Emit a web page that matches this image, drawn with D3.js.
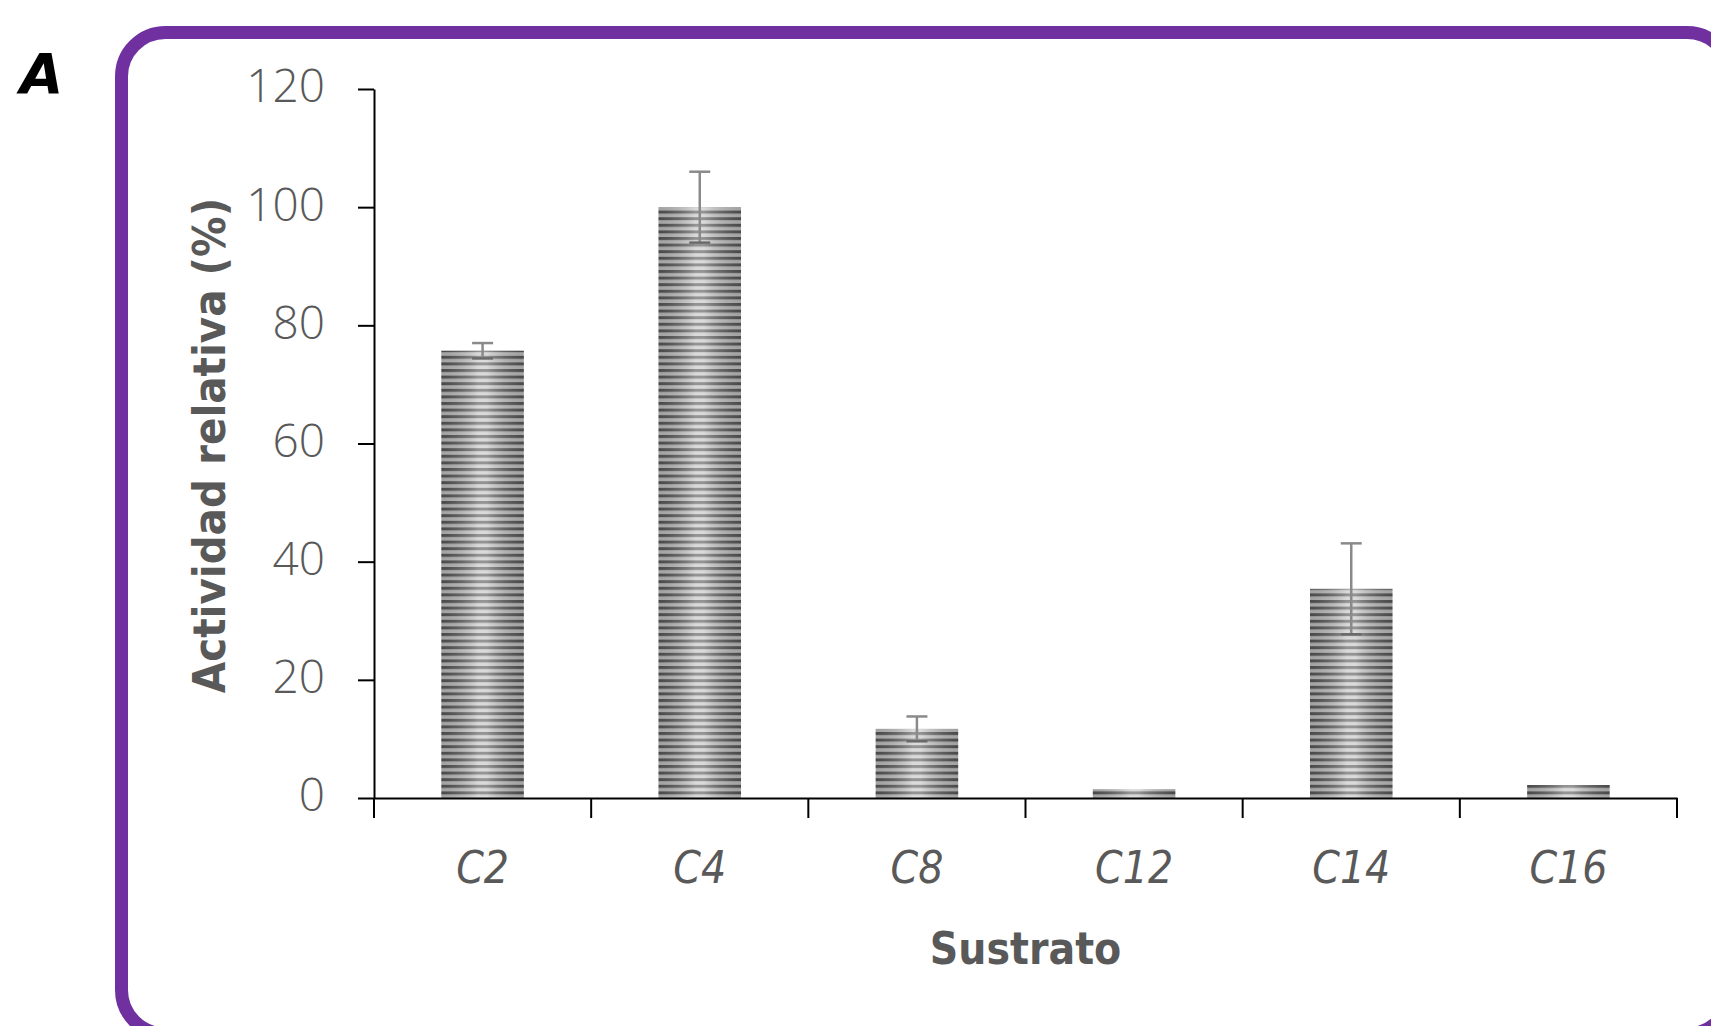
<!DOCTYPE html>
<html>
<head>
<meta charset="utf-8">
<script src="https://cdn.jsdelivr.net/npm/d3@7"></script>
<style>
  html, body { margin: 0; padding: 0; background: #fff; }
  svg { display: block; }
</style>
</head>
<body>
<svg id="chart" width="1711" height="1026"></svg>
<script>
// Relative activity of the enzyme on acyl substrates of different chain length
const categories = ["C2", "C4", "C8", "C12", "C14", "C16"];
const values = [75.7, 100, 11.7, 1.5, 35.4, 2.2];
const errors = [1.3, 6, 2.1, 0, 7.7, 0];
const yTicks = [0, 20, 40, 60, 80, 100, 120];

const svg = d3.select("#chart");
const plot = { left: 374, right: 1677, top: 89, bottom: 798 };

const x = d3.scaleBand().domain(categories).range([plot.left, plot.right]).padding(0);
const y = d3.scaleLinear().domain([0, 120]).range([plot.bottom, plot.top]);
const barW = x.bandwidth() * 0.38;

const defs = svg.append("defs");
// horizontal stripe fill for the bars
const pat = defs.append("pattern")
  .attr("id", "stripes")
  .attr("patternUnits", "userSpaceOnUse")
  .attr("width", 10).attr("height", 6.6)
  .attr("y", plot.bottom);
pat.append("rect").attr("width", 10).attr("height", 6.6).attr("fill", "#c6c6c6");
pat.append("rect").attr("width", 10).attr("height", 3).attr("fill", "#5a5a5a");

// soft cylindrical shading across each bar
const shade = defs.append("linearGradient").attr("id", "shade")
  .attr("x1", "0%").attr("x2", "100%").attr("y1", "0%").attr("y2", "0%");
shade.append("stop").attr("offset", "0%").attr("stop-color", "#000").attr("stop-opacity", 0.18);
shade.append("stop").attr("offset", "45%").attr("stop-color", "#fff").attr("stop-opacity", 0.35);
shade.append("stop").attr("offset", "55%").attr("stop-color", "#fff").attr("stop-opacity", 0.35);
shade.append("stop").attr("offset", "100%").attr("stop-color", "#000").attr("stop-opacity", 0.18);

// rounded purple frame
svg.append("rect")
  .attr("x", 121.5).attr("y", 32.5)
  .attr("width", 1609.5).attr("height", 1001.5)
  .attr("rx", 44).attr("ry", 44)
  .attr("fill", "none")
  .attr("stroke", "#7030a0")
  .attr("stroke-width", 13);

// panel letter
svg.append("text")
  .attr("x", 20).attr("y", 93)
  .attr("font-family", "DejaVu Sans")
  .attr("font-weight", "bold")
  .attr("font-style", "oblique")
  .attr("font-size", 56)
  .attr("fill", "#000")
  .text("A");

const data = categories.map((c, i) => ({ c, v: values[i], e: errors[i] }));

// bars
const bars = svg.append("g");
bars.selectAll("rect.bar").data(data).join("rect")
  .attr("class", "bar")
  .attr("x", d => x(d.c) + (x.bandwidth() - barW) / 2)
  .attr("y", d => y(d.v))
  .attr("width", barW)
  .attr("height", d => y(0) - y(d.v))
  .attr("fill", "url(#stripes)");
bars.selectAll("rect.shade").data(data).join("rect")
  .attr("class", "shade")
  .attr("x", d => x(d.c) + (x.bandwidth() - barW) / 2)
  .attr("y", d => y(d.v))
  .attr("width", barW)
  .attr("height", d => y(0) - y(d.v))
  .attr("fill", "url(#shade)");

// error bars
const eb = svg.append("g").attr("stroke", "#8a8a8a").attr("stroke-width", 2.5);
const capW = 21;
data.filter(d => d.e > 0).forEach(d => {
  const cx = x(d.c) + x.bandwidth() / 2;
  eb.append("line").attr("x1", cx).attr("x2", cx).attr("y1", y(d.v - d.e)).attr("y2", y(d.v + d.e));
  eb.append("line").attr("x1", cx - capW / 2).attr("x2", cx + capW / 2).attr("y1", y(d.v + d.e)).attr("y2", y(d.v + d.e));
  eb.append("line").attr("x1", cx - capW / 2).attr("x2", cx + capW / 2).attr("y1", y(d.v - d.e)).attr("y2", y(d.v - d.e)).attr("stroke", "#6a6a6a");
});

// y axis
const yAxis = svg.append("g")
  .attr("transform", `translate(${plot.left},0)`)
  .call(d3.axisLeft(y).tickValues(yTicks).tickSize(16).tickSizeOuter(0).tickPadding(33));
yAxis.select(".domain").attr("stroke", "#000").attr("stroke-width", 2);
yAxis.selectAll(".tick line").attr("stroke", "#000").attr("stroke-width", 2);
yAxis.selectAll(".tick text")
  .attr("font-family", "Open Sans")
  .attr("font-weight", 300)
  .attr("font-size", 46)
  .attr("fill", "#595959")
  .attr("dy", "0.28em");

// x axis: labels centred under bars, ticks at category boundaries
const xAxis = svg.append("g")
  .attr("transform", `translate(0,${plot.bottom})`)
  .call(d3.axisBottom(x).tickSize(0).tickSizeOuter(0).tickPadding(54));
xAxis.select(".domain").attr("stroke", "#000").attr("stroke-width", 2);
xAxis.selectAll(".tick text")
  .attr("font-family", "DejaVu Sans Condensed")
  .attr("font-style", "oblique")
  .attr("font-size", 44)
  .attr("fill", "#595959");
const bounds = categories.map(c => x(c)).concat([x.range()[1]]);
xAxis.selectAll("line.bound").data(bounds).join("line")
  .attr("class", "bound")
  .attr("x1", d => d).attr("x2", d => d)
  .attr("y1", 0).attr("y2", 20)
  .attr("stroke", "#000").attr("stroke-width", 2);

// axis titles
svg.append("text")
  .attr("x", (plot.left + plot.right) / 2)
  .attr("y", 964)
  .attr("text-anchor", "middle")
  .attr("font-family", "DejaVu Sans Condensed")
  .attr("font-weight", "bold")
  .attr("font-size", 44)
  .attr("fill", "#595959")
  .text("Sustrato");

svg.append("text")
  .attr("transform", `translate(225,${(plot.top + plot.bottom) / 2 + 2}) rotate(-90)`)
  .attr("text-anchor", "middle")
  .attr("font-family", "DejaVu Sans Condensed")
  .attr("font-weight", "bold")
  .attr("font-size", 45)
  .attr("fill", "#595959")
  .text("Actividad relativa (%)");
</script>
</body>
</html>
